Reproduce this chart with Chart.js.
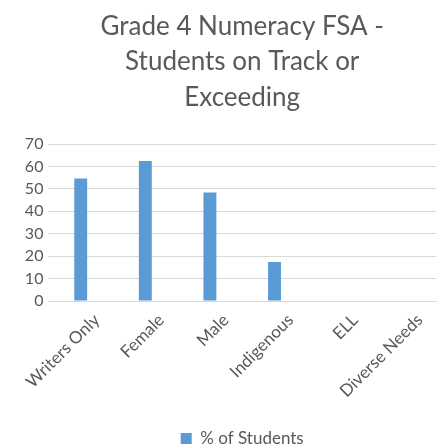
<!DOCTYPE html>
<html>
<head>
<meta charset="utf-8">
<script src="https://cdn.jsdelivr.net/npm/chart.js@4"></script>
<style>
  html, body { margin: 0; padding: 0; background: #ffffff; overflow: hidden; }
  #wrap { width: 448px; height: 445px; }
</style>
</head>
<body>
<div id="wrap"><canvas id="c" width="448" height="445"></canvas></div>
<script>
const titleLines = ["Grade 4 Numeracy FSA -", "Students on Track or", "Exceeding"];
const categories = ["Writers Only", "Female", "Male", "Indigenous", "ELL", "Diverse Needs"];
const seriesName = "% of Students";
const seriesValues = [54.6, 62.5, 48.4, 17.4, null, null];
const yTicks = [0, 10, 20, 30, 40, 50, 60, 70];

const textColor = "#595959";
const gridColor = "#d9d9d9";
const barColor = "#5b9bd5";
const fontFamily = "Lato, 'Open Sans', sans-serif";

new Chart(document.getElementById("c"), {
  type: "bar",
  data: {
    labels: categories,
    datasets: [{
      label: seriesName,
      data: seriesValues,
      backgroundColor: barColor,
      borderWidth: 0,
      barPercentage: 0.4,
      categoryPercentage: 0.5
    }]
  },
  options: {
    responsive: false,
    animation: false,
    layout: { padding: { left: 0, right: 12, top: 0, bottom: -12 } },
    plugins: {
      title: {
        display: true,
        text: titleLines,
        fullSize: false,
        color: textColor,
        font: { family: fontFamily, size: 26, weight: "normal", lineHeight: 1.36 },
        padding: { top: 9, bottom: 29 }
      },
      legend: {
        display: true,
        position: "bottom",
        fullSize: false,
        labels: {
          color: textColor,
          font: { family: fontFamily, size: 17 },
          boxWidth: 11,
          boxHeight: 11,
          padding: 4
        }
      },
      tooltip: { enabled: false }
    },
    scales: {
      x: {
        afterFit: (axis) => { axis.height = 125; },
        grid: { display: false, drawTicks: false },
        border: { display: true, color: gridColor, width: 1 },
        ticks: {
          color: textColor,
          font: { family: fontFamily, size: 17 },
          maxRotation: 45,
          minRotation: 45,
          autoSkip: false,
          padding: 9,
          labelOffset: 16
        }
      },
      y: {
        min: 0,
        max: 70,
        afterBuildTicks: (axis) => { axis.ticks = yTicks.map(v => ({ value: v })); },
        afterFit: (axis) => { axis.width = 40; },
        grid: { color: gridColor, drawTicks: false, lineWidth: 1 },
        border: { display: false },
        ticks: {
          color: textColor,
          font: { family: fontFamily, size: 16 },
          autoSkip: false,
          padding: 5
        }
      }
    }
  }
});
</script>
</body>
</html>
